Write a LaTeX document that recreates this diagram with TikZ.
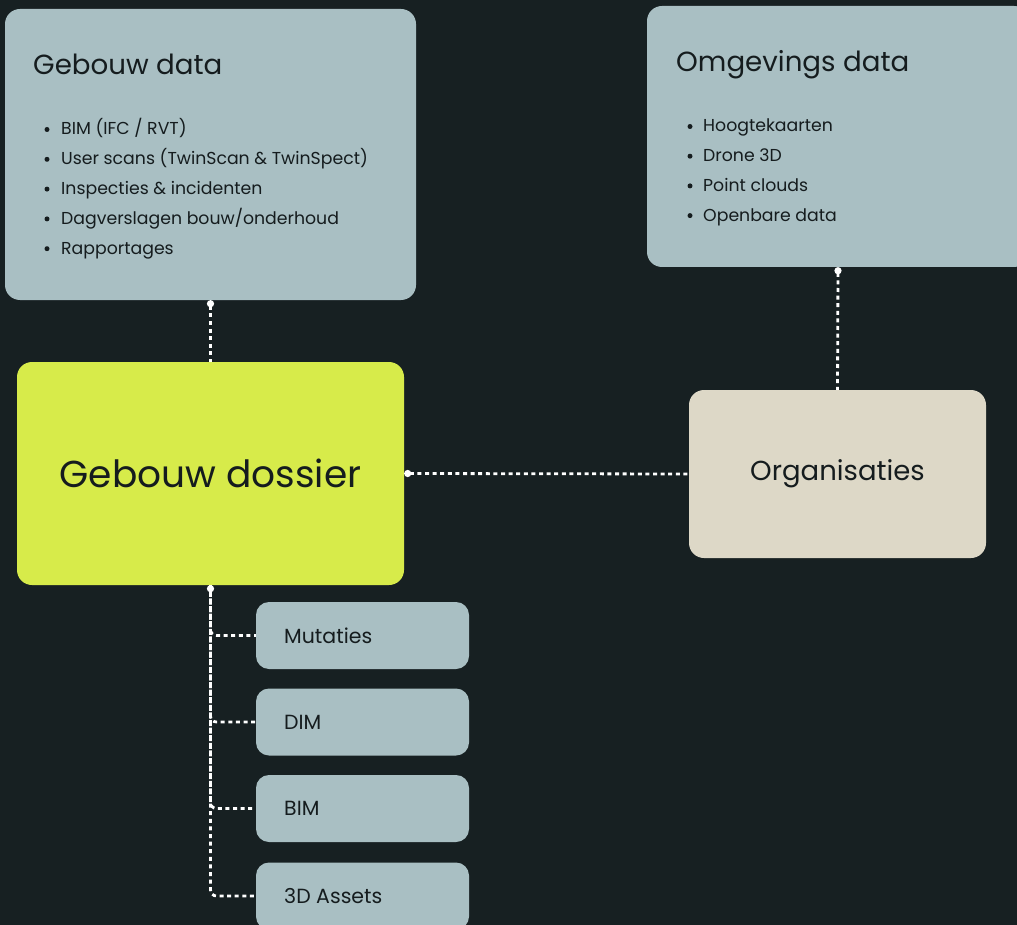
\documentclass[tikz,border=0pt]{standalone}
\usepackage{fontspec}
\setmainfont{Poppins}
\usetikzlibrary{arrows.meta}
\definecolor{bg}{HTML}{172022}
\definecolor{boxc}{HTML}{A9BFC3}
\definecolor{greenc}{HTML}{D7EB4A}
\definecolor{beigec}{HTML}{DDD8C7}
\definecolor{txt}{HTML}{151C1E}
\tikzset{
  panel/.style={fill=boxc, rounded corners=15, draw=none},
  conn/.style={draw=white, line width=2.8, dash pattern=on 4 off 3.6},
  startdot/.style={{Circle[length=7,width=7]}-},
  title/.style={anchor=base west, inner sep=0, text=txt, font=\fontsize{27.7}{30}\selectfont},
  item/.style={anchor=base west, inner sep=0, text=txt, font=\fontsize{17.3}{20}\selectfont},
  bul/.style={circle, fill=txt, inner sep=0, minimum size=5},
  small/.style={fill=boxc, rounded corners=13, minimum width=213, minimum height=67, draw=none, inner sep=0}
}
\begin{document}
\begin{tikzpicture}[x=1pt,y=-1pt]
\useasboundingbox (0,0) rectangle (1017,925);
\fill[bg] (0,0) rectangle (1017,925);
% Gebouw data
\node[panel, minimum width=411, minimum height=291, inner sep=0] (gd) at (210.5,154.5) {};
\node[title] (gdt) at (33,75) {Gebouw data};
\foreach \t [count=\i] in {BIM (IFC / RVT),User scans (TwinScan \& TwinSpect),Inspecties \& incidenten,Dagverslagen bouw/onderhoud,Rapportages}{
  \node[bul] (gdb\i) at (47,{135+29.8*(\i-1)-5.5}) {};
  \node[item] (gdi\i) at (61,{135+29.8*(\i-1)}) {\t};
}
% Omgevings data
\node[panel, minimum width=382, minimum height=261, inner sep=0] (od) at (838,136.5) {};
\node[title] (odt) at (676,72) {Omgevings data};
\foreach \t [count=\i] in {Hoogtekaarten,Drone 3D,Point clouds,Openbare data}{
  \node[bul] (odb\i) at (690,{132+29.7*(\i-1)-5.5}) {};
  \node[item] (odi\i) at (703,{132+29.7*(\i-1)}) {\t};
}
% Gebouw dossier
\node[fill=greenc, rounded corners=15, minimum width=387, minimum height=223, inner sep=0, text=txt, font=\fontsize{37.5}{40}\selectfont] (dos) at (210.5,473.5) {Gebouw dossier};
% Organisaties
\node[fill=beigec, rounded corners=15, minimum width=297, minimum height=168, inner sep=0, text=txt, font=\fontsize{27.5}{29}\selectfont] (org) at (837.5,474) {Organisaties};
% small boxes
\foreach \n/\t/\y in {mut/Mutaties/635.5,dim/DIM/722,bim/BIM/808.5,ass/3D Assets/896}{
  \node[small] (\n) at (362.5,\y) {};
  \node[anchor=west, inner sep=0, text=txt, font=\fontsize{20.5}{22}\selectfont] (\n t) at (284,\y) {\t};
}
% connectors
\draw[conn, startdot] (gd.south) -- (dos.north);
\draw[conn, startdot] (od.south) -- (org.north);
\draw[conn, startdot] (dos.east) -- (org.west);
\draw[conn, startdot, rounded corners=6] (dos.south) |- (ass.west);
\draw[conn, rounded corners=6] (dos.south) |- (mut.west);
\draw[conn, rounded corners=6] (dos.south) |- (dim.west);
\draw[conn, rounded corners=6] (dos.south) |- (bim.west);
\end{tikzpicture}
\end{document}
